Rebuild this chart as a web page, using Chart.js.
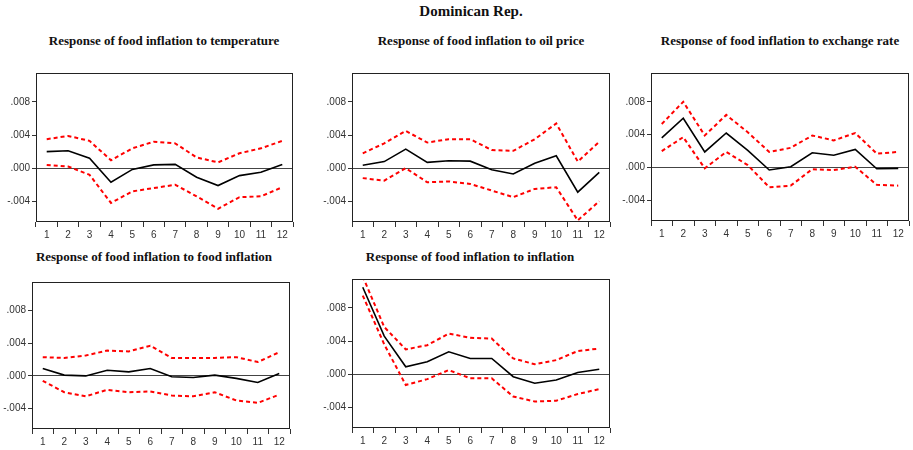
<!DOCTYPE html>
<html>
<head>
<meta charset="utf-8">
<script src="https://cdn.jsdelivr.net/npm/chart.js@4"></script>
<style>
  body { margin: 0; background: #fff; width: 913px; height: 450px; position: relative; overflow: hidden; }
  canvas { position: absolute; }
  .ttl { position: absolute; font: bold 13px "Liberation Serif", serif; color: #111; white-space: nowrap; transform: translateX(-50%); }
  #main { position: absolute; left: 471px; top: 3px; transform: translateX(-50%); font: bold 15px "Liberation Serif", serif; color: #111; }
</style>
</head>
<body>
<div id="main">Dominican Rep.</div>

<script>
/* ===== データ ===== */
const periods = ['1','2','3','4','5','6','7','8','9','10','11','12'];
const yTicks = [-0.004, 0, 0.004, 0.008];

const tempMid = [0.0020, 0.0021, 0.0012, -0.0017, -0.00015, 0.0004, 0.00046, -0.0011, -0.0021, -0.0009, -0.0005, 0.00046];
const tempUp  = [0.0035, 0.0039, 0.0033, 0.00096, 0.0024, 0.0032, 0.0030, 0.0013, 0.0007, 0.0018, 0.0024, 0.0033];
const tempLo  = [0.0004, 0.0002, -0.0008, -0.0042, -0.0028, -0.0024, -0.0020, -0.0034, -0.0049, -0.0035, -0.0034, -0.0023];

const oilMid = [0.00035, 0.0008, 0.0023, 0.0007, 0.0009, 0.00085, -0.0002, -0.0007, 0.0006, 0.0015, -0.0029, -0.0005];
const oilUp  = [0.0018, 0.0030, 0.0045, 0.0031, 0.0035, 0.0035, 0.0022, 0.0021, 0.0035, 0.0054, 0.0008, 0.0032];
const oilLo  = [-0.0012, -0.0015, 0.0000, -0.0017, -0.0016, -0.0019, -0.0027, -0.0035, -0.0025, -0.0023, -0.0063, -0.0040];

const fxMid = [0.0036, 0.0060, 0.0019, 0.0042, 0.0021, -0.0003, 0.0001, 0.0018, 0.0015, 0.0022, -0.00015, -0.0001];
const fxUp  = [0.0053, 0.0080, 0.0039, 0.0064, 0.0043, 0.0019, 0.0024, 0.0039, 0.0033, 0.0042, 0.0017, 0.0019];
const fxLo  = [0.0020, 0.0037, -0.0001, 0.0019, 0.0003, -0.0024, -0.0022, -0.0002, -0.0003, 0.0001, -0.0021, -0.0022];

const foodMid = [0.0009, 0.0001, 0.0000, 0.0007, 0.0005, 0.0009, -0.0001, -0.0002, 0.0001, -0.0003, -0.0008, 0.0003];
const foodUp  = [0.0023, 0.0022, 0.0025, 0.0031, 0.0030, 0.0037, 0.0022, 0.0022, 0.0022, 0.0023, 0.0017, 0.0029];
const foodLo  = [-0.0006, -0.0020, -0.0025, -0.0017, -0.0020, -0.0019, -0.0024, -0.0025, -0.0020, -0.0030, -0.0033, -0.0023];

const inflMid = [0.0105, 0.0046, 0.0009, 0.0015, 0.0027, 0.0019, 0.0019, -0.0003, -0.0011, -0.0007, 0.0002, 0.0006];
const inflUp  = [0.0118, 0.0057, 0.0030, 0.0035, 0.0049, 0.0044, 0.0043, 0.0019, 0.0012, 0.0017, 0.0028, 0.0031];
const inflLo  = [0.0095, 0.0036, -0.0013, -0.0006, 0.0005, -0.0005, -0.0005, -0.0027, -0.0033, -0.0032, -0.0024, -0.0018];

/* ===== パネル配置 ===== */
const panels = [
  { title: 'Response of food inflation to temperature',    mid: tempMid, up: tempUp, lo: tempLo, fl: 36,  fr: 293, ft: 67,  fb: 222, tx: 164, ty: 33 },
  { title: 'Response of food inflation to oil price',      mid: oilMid,  up: oilUp,  lo: oilLo,  fl: 352, fr: 610, ft: 67,  fb: 222, tx: 481, ty: 33 },
  { title: 'Response of food inflation to exchange rate',  mid: fxMid,   up: fxUp,   lo: fxLo,   fl: 651, fr: 909, ft: 67,  fb: 221, tx: 780, ty: 33 },
  { title: 'Response of food inflation to food inflation', mid: foodMid, up: foodUp, lo: foodLo, fl: 32,  fr: 290, ft: 276, fb: 429, tx: 154, ty: 249 },
  { title: 'Response of food inflation to inflation',      mid: inflMid, up: inflUp, lo: inflLo, fl: 352, fr: 610, ft: 273, fb: 428, tx: 470, ty: 249 },
];

const YW = 36, XH = 24, PAD = 2;
const tickFont = { family: '"Liberation Sans", Arial, sans-serif', size: 10 };

/* 枠線 */
const frame = {
  id: 'frame',
  afterDraw(c) {
    const a = c.chartArea, x = c.ctx;
    x.save();
    x.strokeStyle = '#222';
    x.lineWidth = 1;
    x.strokeRect(Math.round(a.left) + .5, Math.round(a.top) + .5, Math.round(a.right - a.left) - 1, Math.round(a.bottom - a.top) - 1);
    x.restore();
  },
};

const band = (data, color) => ({
  data, borderColor: color, borderWidth: 2, borderDash: [4, 3],
  pointRadius: 0, fill: false, tension: 0,
});

panels.forEach((p, i) => {
  const t = document.createElement('div');
  t.className = 'ttl';
  t.textContent = p.title;
  t.style.left = p.tx + 'px';
  t.style.top = p.ty + 'px';
  document.body.appendChild(t);

  const cv = document.createElement('canvas');
  const w = YW + (p.fr - p.fl) + PAD, h = PAD + (p.fb - p.ft) + XH;
  cv.style.left = (p.fl - YW) + 'px';
  cv.style.top = (p.ft - PAD) + 'px';
  cv.style.width = w + 'px';
  cv.style.height = h + 'px';
  cv.width = w; cv.height = h;
  document.body.appendChild(cv);

  new Chart(cv.getContext('2d'), {
    type: 'line',
    data: {
      labels: periods,
      datasets: [
        { data: p.mid, borderColor: '#000', borderWidth: 1.6, pointRadius: 0, fill: false, tension: 0 },
        band(p.up, '#ff0000'),
        band(p.lo, '#ff0000'),
      ],
    },
    options: {
      responsive: false,
      animation: false,
      layout: { padding: { top: PAD, right: PAD, left: 0, bottom: 0 } },
      plugins: { legend: { display: false }, tooltip: { enabled: false } },
      scales: {
        x: {
          offset: true,
          border: { display: false },
          grid: { offset: true, drawOnChartArea: false, drawTicks: true, tickLength: 5, tickColor: '#333', lineWidth: 1 },
          ticks: { color: '#333', font: tickFont, maxRotation: 0, autoSkip: false, padding: 2 },
          afterFit: s => { s.height = XH; },
        },
        y: {
          min: -0.0065, max: 0.0115,
          border: { display: false },
          afterBuildTicks: s => { s.ticks = yTicks.map(v => ({ value: v })); },
          grid: {
            color: c => (c.tick && c.tick.value === 0) ? '#444' : 'rgba(0,0,0,0)',
            lineWidth: 1, drawTicks: true, tickLength: 4, tickColor: '#333',
          },
          ticks: { color: '#333', font: tickFont, padding: 2,
            callback: v => v.toFixed(3).replace('0.', '.') },
          afterFit: s => { s.width = YW; },
        },
      },
    },
    plugins: [frame],
  });
});
</script>
</body>
</html>
